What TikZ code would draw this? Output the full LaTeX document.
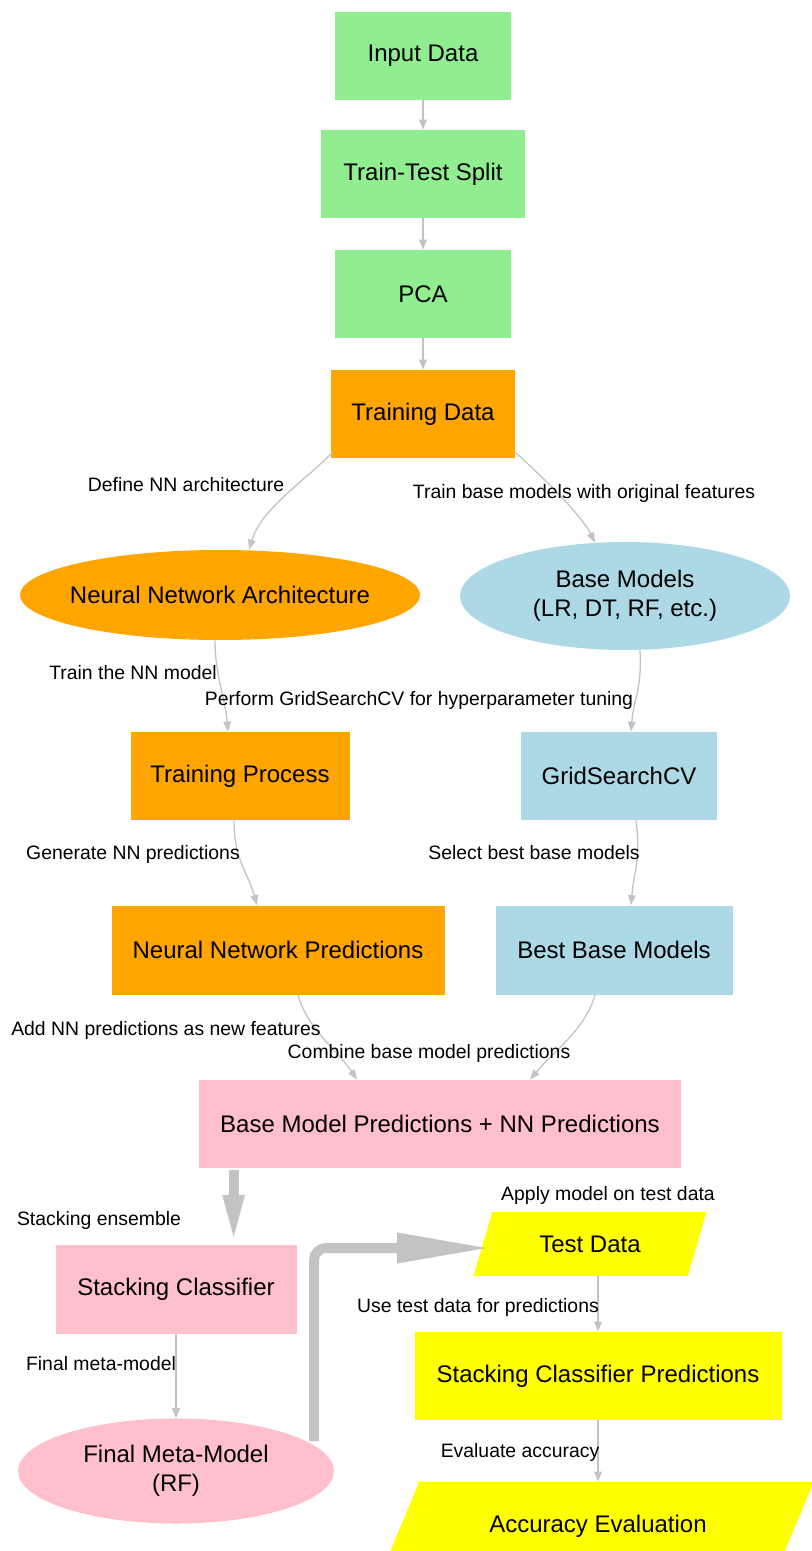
\documentclass[tikz,border=0pt]{standalone}
\usepackage{fontspec}
\setmainfont{Liberation Sans}
\usetikzlibrary{shapes.geometric,arrows.meta,calc}
\definecolor{cgreen}{HTML}{90EE90}
\definecolor{corange}{HTML}{FFA500}
\definecolor{cblue}{HTML}{ADD8E6}
\definecolor{cpink}{HTML}{FFC0CB}
\definecolor{cyellow}{HTML}{FFFF00}
\definecolor{edgegray}{RGB}{195,195,195}
\begin{document}
\begin{tikzpicture}[x=0.5pt,y=-0.5pt,
  box/.style={rectangle, minimum height=44pt, inner sep=0pt, align=center,
    font=\fontsize{12}{14.5}\selectfont},
  ell/.style={ellipse, inner sep=0pt, align=center,
    font=\fontsize{12}{14.5}\selectfont},
  para/.style={trapezium, trapezium stretches=true, inner sep=0pt, align=center,
    font=\fontsize{12}{14.5}\selectfont, fill=cyellow},
  lbl/.style={inner sep=0pt, font=\fontsize{9.7}{11.5}\selectfont},
  edge/.style={draw=edgegray, line width=0.65pt, -{Triangle[length=5pt,width=3.8pt]}},
  bigedge/.style={draw=edgegray, line width=5pt}]
\useasboundingbox (0,0) rectangle (811,1551);

% nodes
\node[box, fill=cgreen, minimum width=88pt] (IN) at (423,56) {Input Data};
\node[box, fill=cgreen, minimum width=102pt] (TTS) at (423,174) {Train-Test Split};
\node[box, fill=cgreen, minimum width=88pt] (PCA) at (423,294) {PCA};
\node[box, fill=corange, minimum width=92pt] (TD) at (423,414) {Training Data};
\node[ell, fill=corange, inner xsep=-4.5pt, minimum width=200pt, minimum height=45pt] (NNA) at (220,595) {Neural Network Architecture};
\node[ell, fill=cblue, minimum width=165pt, minimum height=54pt] (BM) at (625,596) {Base Models\\(LR, DT, RF, etc.)};
\node[box, fill=corange, minimum width=109.5pt] (TP) at (240,776) {Training Process};
\node[box, fill=cblue, minimum width=98pt] (GS) at (619,776) {GridSearchCV};
\node[box, fill=corange, minimum width=166.5pt, minimum height=44.5pt] (NNP) at (278,950) {Neural Network Predictions};
\node[box, fill=cblue, minimum width=118.5pt, minimum height=44.5pt] (BBM) at (614,950) {Best Base Models};
\node[box, fill=cpink, minimum width=241pt] (BMP) at (440,1124) {Base Model Predictions + NN Predictions};
\node[box, fill=cpink, minimum width=120.5pt, minimum height=44.5pt] (SC) at (176,1289) {Stacking Classifier};
\node[para, trapezium left angle=60, trapezium right angle=120, minimum width=117pt, minimum height=32pt] (TestD) at (590,1244) {Test Data};
\node[box, fill=cyellow, minimum width=183.5pt] (SCP) at (598,1376) {Stacking Classifier Predictions};
\node[ell, fill=cpink, minimum width=158pt, minimum height=52.5pt] (FMM) at (176,1471) {Final Meta-Model\\(RF)};
\node[para, trapezium left angle=45, trapezium right angle=135, minimum width=216pt, minimum height=44pt] (AE) at (598,1526) {Accuracy Evaluation};

% thin edges
\draw[edge] (IN) -- (TTS);
\draw[edge] (TTS) -- (PCA);
\draw[edge] (PCA) -- (TD);
\draw[edge] ($(TD.south west)+(2,-6)$) .. controls +(-30,30) and +(12,-40) .. ($(NNA.north)+(29,0)$);
\draw[edge] ($(TD.south east)+(0,-6)$) .. controls +(20,18) and +(-15,-30) .. ($(BM.north)+(-30,1)$);
\draw[edge] ($(NNA.south)+(-5,0)$) .. controls +(0,35) and +(-3,-35) .. ($(TP.north)+(-12,0)$);
\draw[edge] ($(BM.south)+(15,0)$) .. controls +(2,40) and +(3,-35) .. ($(GS.north)+(12,0)$);
\draw[edge] ($(TP.south)+(-6,0)$) .. controls +(0,40) and +(-10,-35) .. ($(NNP.north)+(-21,0)$);
\draw[edge] ($(GS.south)+(17,0)$) .. controls +(5,40) and +(3,-35) .. ($(BBM.north)+(17,0)$);
\draw[edge] ($(NNP.south)+(20,0)$) .. controls +(10,35) and +(-20,-30) .. ($(BMP.north)+(-83,0)$);
\draw[edge] ($(BBM.south)+(-19,0)$) .. controls +(-10,35) and +(25,-30) .. ($(BMP.north)+(90,0)$);
\draw[edge] (TestD.south -| SCP.north) -- (SCP.north);
\draw[edge] (SC.south) -- (FMM.north);
\draw[edge] (SCP.south) -- (AE.north -| SCP.south);

% thick edges
\coordinate (tk1) at ($(BMP.south west)+(35,2)$);
\draw[bigedge, -{Triangle[length=24.5pt,width=9.5pt]}] (tk1) -- (tk1 |- SC.north);
\coordinate (tk2) at ($(FMM.center)+(138,-30)$);
\coordinate (tk3) at ($(TestD.center)+(-99,4)$);
\draw[bigedge, rounded corners=6pt, -{Triangle[length=47pt,width=14pt]}] (tk2) |- (tk3);

% labels
\node[lbl] (l1) at (186,485) {Define NN architecture};
\node[lbl] (l2) at (584,493) {Train base models with original features};
\node[lbl] (l3) at (133,673) {Train the NN model};
\node[lbl] (l4) at (419,700) {Perform GridSearchCV for hyperparameter tuning};
\node[lbl] (l5) at (133,854) {Generate NN predictions};
\node[lbl] (l6) at (534,853) {Select best base models};
\node[lbl] (l7) at (166,1030) {Add NN predictions as new features};
\node[lbl] (l8) at (429,1053) {Combine base model predictions};
\node[lbl] (l9) at (99,1220) {Stacking ensemble};
\node[lbl] (l10) at (608,1195) {Apply model on test data};
\node[lbl] (l11) at (478,1307) {Use test data for predictions};
\node[lbl] (l12) at (101,1364) {Final meta-model};
\node[lbl] (l13) at (520,1452) {Evaluate accuracy};
\end{tikzpicture}
\end{document}
